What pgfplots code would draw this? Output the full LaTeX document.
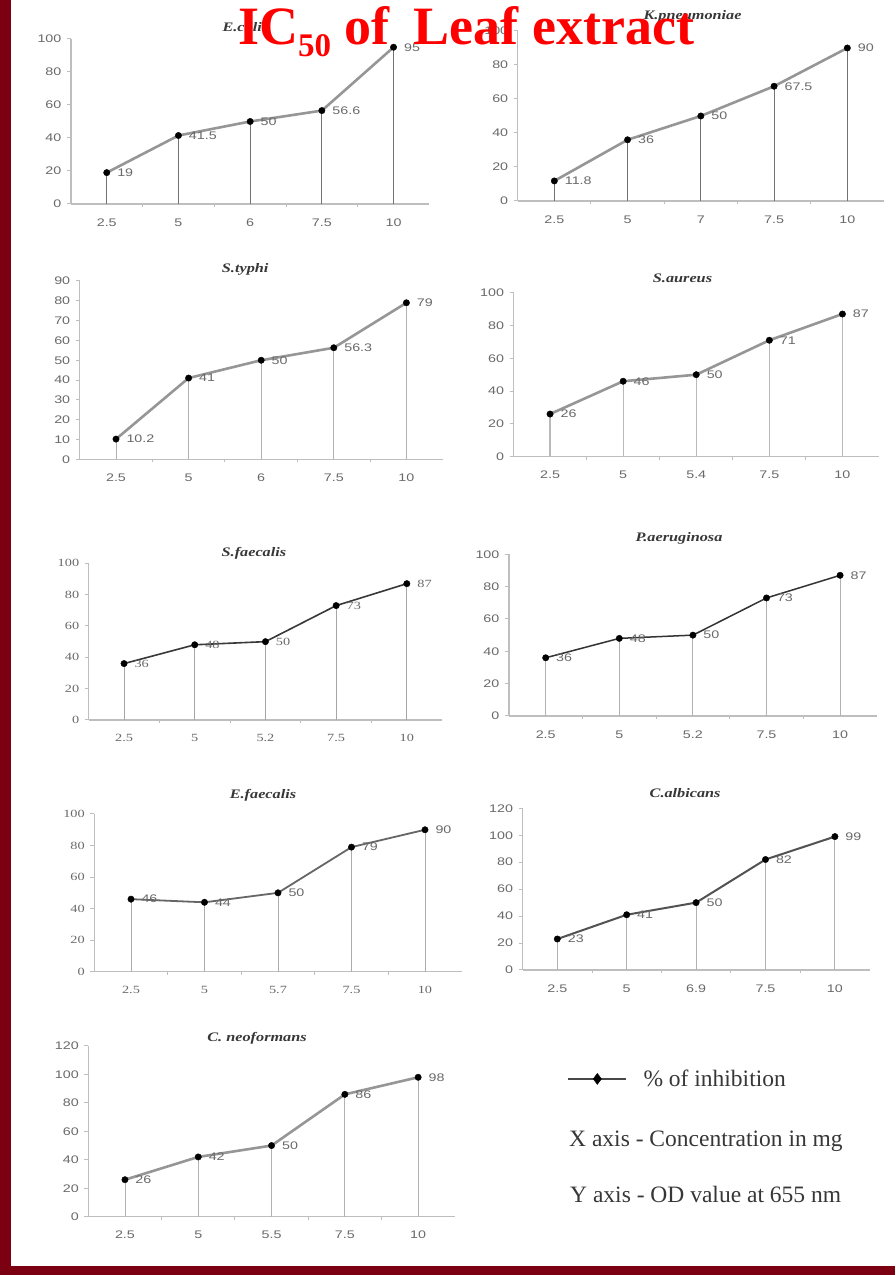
\documentclass[border=0pt]{standalone}
\usepackage{pgfplots}
\usepackage{pgfplotstable}
\pgfplotsset{compat=1.18}
\usepackage{fontspec}
\setmainfont{Liberation Serif}
\newfontfamily\tsans[FakeStretch=1.3]{Liberation Sans}
\newfontfamily\tserif[FakeStretch=1.3]{Liberation Serif}
\newfontfamily\ttlf[FakeStretch=1.25]{Liberation Serif}

\definecolor{frame}{RGB}{122,0,18}
\definecolor{axisgray}{RGB}{190,190,190}
\definecolor{labgray}{RGB}{105,105,105}
\definecolor{linegray}{RGB}{150,150,150}
\definecolor{dropgray}{RGB}{125,125,125}
\definecolor{ttlgray}{RGB}{55,55,55}
\definecolor{lgdgray}{RGB}{55,55,55}

\pgfplotstableread{
x y lab
0 19 19
1 41.5 41.5
2 50 50
3 56.6 56.6
4 95 95
}\dA
\pgfplotstableread{
x y lab
0 11.8 11.8
1 36 36
2 50 50
3 67.5 67.5
4 90 90
}\dB
\pgfplotstableread{
x y lab
0 10.2 10.2
1 41 41
2 50 50
3 56.3 56.3
4 79 79
}\dC
\pgfplotstableread{
x y lab
0 26 26
1 46 46
2 50 50
3 71 71
4 87 87
}\dD
\pgfplotstableread{
x y lab
0 36 36
1 48 48
2 50 50
3 73 73
4 87 87
}\dE
\pgfplotstableread{
x y lab
0 36 36
1 48 48
2 50 50
3 73 73
4 87 87
}\dF
\pgfplotstableread{
x y lab
0 46 46
1 44 44
2 50 50
3 79 79
4 90 90
}\dG
\pgfplotstableread{
x y lab
0 23 23
1 41 41
2 50 50
3 82 82
4 99 99
}\dH
\pgfplotstableread{
x y lab
0 26 26
1 42 42
2 50 50
3 86 86
4 98 98
}\dI

\pgfplotsset{
  panel/.style={
    scale only axis, anchor=south west,
    xmin=-0.5, xmax=4.5, ymin=0,
    axis x line*=bottom, axis y line*=left,
    axis line style={draw=axisgray, line width=1.2pt},
    xtick={0,1,2,3,4},
    minor xtick={0.5,1.5,2.5,3.5},
    major x tick style={draw=none},
    minor x tick style={draw=axisgray, line width=1pt},
    y tick style={draw=axisgray, line width=1pt},
    tick align=outside,
    major tick length=4pt, minor tick length=3pt,
    /pgf/number format/assume math mode=true,
    tick label style={font=\tsans\fontsize{11}{12}\selectfont, text=labgray},
    yticklabel style={xshift=-2pt},
    xticklabel style={yshift=-7pt},
    every axis title/.style={at={(0.5,1)}, anchor=center,
      font=\ttlf\bfseries\itshape\fontsize{13}{14}\selectfont, text=ttlgray},
    clip=false,
  },
  serifticks/.style={tick label style={font=\tserif\fontsize{11}{12}\selectfont}},
  drop/.style={ycomb, draw=dropgray, line width=0.9pt, no marks, forget plot},
  main/.style={draw=linegray, line width=2.6pt, mark=*, mark size=3.2pt,
    mark options={draw=black, fill=black, line width=0.4pt},
    nodes near coords, point meta=explicit symbolic,
    nodes near coords style={anchor=west, xshift=7pt,
      font=\tsans\fontsize{11}{12}\selectfont, text=labgray}},
}

\begin{document}
\begin{tikzpicture}
\fill[white] (0pt,0pt) rectangle (895pt,1275pt);
\path[use as bounding box] (0pt,0pt) rectangle (895pt,1275pt);

% 1 E.coli
\begin{axis}[panel, at={(70.9pt,1071pt)}, width=358.5pt, height=165pt,
  ymax=100, ytick={0,20,...,100}, xticklabels={2.5,5,6,7.5,10},
  title={E.coli}, title style={xshift=-8pt, yshift=12.3pt}]
\addplot[drop, draw=gray!90!black] table[x=x,y=y]{\dA};
\addplot[main] table[x=x,y=y,meta=lab]{\dA};
\end{axis}

% 2 K.pneumoniae
\begin{axis}[panel, at={(517.7pt,1074pt)}, width=366.25pt, height=170pt,
  ymax=100, ytick={0,20,...,100}, xticklabels={2.5,5,7,7.5,10},
  title={K.pneumoniae}, title style={xshift=-8.3pt, yshift=14.3pt}]
\addplot[drop, draw=gray!90!black] table[x=x,y=y]{\dB};
\addplot[main] table[x=x,y=y,meta=lab]{\dB};
\end{axis}

% 3 S.typhi
\begin{axis}[panel, at={(79.7pt,815.7pt)}, width=363pt, height=178.3pt,
  ymax=90, ytick={0,10,...,90}, xticklabels={2.5,5,6,7.5,10},
  title={S.typhi}, title style={xshift=-16pt, yshift=11.7pt}]
\addplot[drop, draw=gray!60] table[x=x,y=y]{\dC};
\addplot[main] table[x=x,y=y,meta=lab]{\dC};
\end{axis}

% 4 S.aureus
\begin{axis}[panel, at={(513.5pt,818.3pt)}, width=365.5pt, height=164pt,
  ymax=100, ytick={0,20,...,100}, xticklabels={2.5,5,5.4,7.5,10},
  title={S.aureus}, title style={xshift=-13.75pt, yshift=14.4pt}]
\addplot[drop, draw=gray!55, line width=1.2pt] table[x=x,y=y]{\dD};
\addplot[main] table[x=x,y=y,meta=lab]{\dD};
\end{axis}

% 5 S.faecalis
\begin{axis}[panel, serifticks, at={(88.7pt,555pt)}, width=353.5pt, height=156.7pt,
  ymax=100, ytick={0,20,...,100}, xticklabels={2.5,5,5.2,7.5,10},
  title={S.faecalis}, title style={xshift=-11.5pt, yshift=10pt}]
\addplot[drop, draw=gray!70] table[x=x,y=y]{\dE};
\addplot[main, draw=black!78, line width=1.6pt,
  nodes near coords style={font=\tserif\fontsize{11}{12}\selectfont}] table[x=x,y=y,meta=lab]{\dE};
\end{axis}

% 6 P.aeruginosa
\begin{axis}[panel, at={(508.9pt,559pt)}, width=368pt, height=161.7pt,
  ymax=100, ytick={0,20,...,100}, xticklabels={2.5,5,5.2,7.5,10},
  title={P.aeruginosa}, title style={xshift=-13.9pt, yshift=16pt}]
\addplot[drop, draw=gray!60] table[x=x,y=y]{\dF};
\addplot[main, draw=black!80, line width=1.5pt] table[x=x,y=y,meta=lab]{\dF};
\end{axis}

% 7 E.faecalis
\begin{axis}[panel, serifticks, at={(94.25pt,303.3pt)}, width=367.5pt, height=157.7pt,
  ymax=100, ytick={0,20,...,100}, xticklabels={2.5,5,5.7,7.5,10},
  title={E.faecalis}, title style={xshift=-15pt, yshift=19pt}]
\addplot[drop, draw=gray!65] table[x=x,y=y]{\dG};
\addplot[main, draw=black!60, line width=1.8pt] table[x=x,y=y,meta=lab]{\dG};
\end{axis}

% 8 C.albicans
\begin{axis}[panel, at={(522.6pt,305pt)}, width=347pt, height=161.7pt,
  ymax=120, ytick={0,20,...,120}, xticklabels={2.5,5,6.9,7.5,10},
  title={C.albicans}, title style={xshift=-11pt, yshift=15.6pt}]
\addplot[drop, draw=gray!60] table[x=x,y=y]{\dH};
\addplot[main, draw=black!68, line width=2pt] table[x=x,y=y,meta=lab]{\dH};
\end{axis}

% 9 C. neoformans
\begin{axis}[panel, at={(88.3pt,58.3pt)}, width=366.5pt, height=170.7pt,
  ymax=120, ytick={0,20,...,120}, xticklabels={2.5,5,5.5,7.5,10},
  title={C. neoformans}, title style={xshift=-14.5pt, yshift=7.7pt},
  legend style={at={(1.306,0.807)}, anchor=west, draw=none, fill=none,
    inner sep=0pt, font=\fontsize{23.5}{26}\selectfont, text=lgdgray,
    /tikz/every odd column/.append style={column sep=14pt}},
  legend image code/.code={\draw[mark repeat=2,mark phase=2,#1] plot coordinates {(0pt,0pt) (29pt,0pt) (58pt,0pt)};}]
\addplot[drop, draw=gray!60] table[x=x,y=y]{\dI};
\addplot[main, forget plot] table[x=x,y=y,meta=lab]{\dI};
\addlegendimage{draw=black!72, line width=2.4pt, mark=diamond*, mark size=5.5pt,
  mark options={draw=black, fill=black, line width=0.4pt}}
\addlegendentry{\% of inhibition}
\end{axis}

\node[anchor=west, inner sep=0pt, text=lgdgray, font=\fontsize{23.5}{26}\selectfont] at (569pt,134pt) {X axis - Concentration in mg};
\node[anchor=west, inner sep=0pt, text=lgdgray, font=\fontsize{23.5}{26}\selectfont] at (570pt,81pt) {Y axis - OD value at 655 nm};

% main title
\node[anchor=base west, inner sep=0pt, text=red, font=\bfseries\fontsize{54}{60}\selectfont] at (238pt,1230pt)
  {IC\raisebox{-11.7pt}{\fontsize{33}{33}\selectfont 50} of\hspace{0.45em}Leaf extract};

% frame
\fill[frame] (0pt,0pt) rectangle (11pt,1275pt);
\fill[frame] (0pt,0pt) rectangle (895pt,9pt);
\end{tikzpicture}
\end{document}
